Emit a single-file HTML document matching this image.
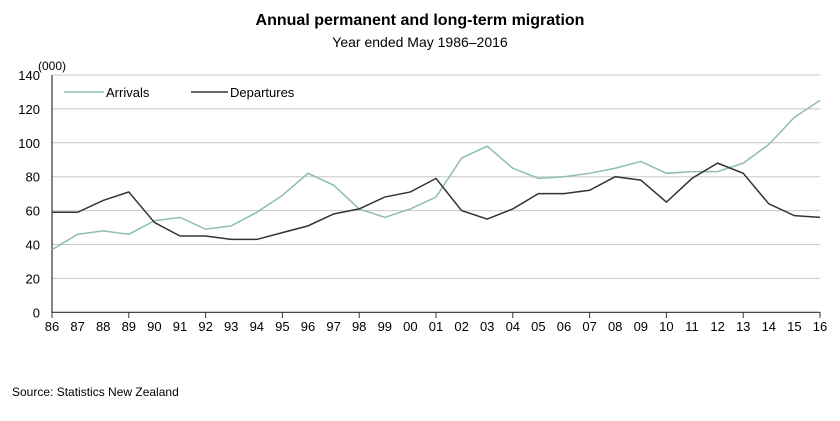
<!DOCTYPE html>
<html><head><meta charset="utf-8"><style>
body{margin:0;background:#fff;font-family:"Liberation Sans",sans-serif;}
</style></head><body>
<svg width="840" height="416" xmlns="http://www.w3.org/2000/svg" font-family="Liberation Sans, sans-serif">
<text x="420" y="25" text-anchor="middle" font-size="16" font-weight="bold">Annual permanent and long-term migration</text>
<text x="420" y="47" text-anchor="middle" font-size="14">Year ended May 1986–2016</text>
<text x="52" y="70" text-anchor="middle" font-size="12">(000)</text>
<g id="grid"></g><g id="yt"></g><g id="xt"></g><g id="lines"></g>
<g>
<line x1="64" y1="92" x2="104" y2="92" stroke="#8fbcb4" stroke-width="1.5"/>
<text x="106" y="97" font-size="13">Arrivals</text>
<line x1="191" y1="92" x2="228" y2="92" stroke="#333" stroke-width="1.5"/>
<text x="230" y="97" font-size="13">Departures</text>
</g>
<text x="12" y="396" font-size="12">Source: Statistics New Zealand</text>
</svg>
<script>
const years=["86","87","88","89","90","91","92","93","94","95","96","97","98","99","00","01","02","03","04","05","06","07","08","09","10","11","12","13","14","15","16"];
const arrivals=[37,46,48,46,54,56,49,51,59,69,82,75,61,56,61,68,91,98,85,79,80,82,85,89,82,83,83,88,99,115,125];
const departures=[59,59,66,71,53,45,45,43,43,47,51,58,61,68,71,79,60,55,61,70,70,72,80,78,65,79,88,82,64,57,56];
const yTicks=[0,20,40,60,80,100,120,140];
const NS="http://www.w3.org/2000/svg";
const x=i=>52+i*(768/(years.length-1));
const y=v=>312.3-v*(237.3/140);
function mk(t,a,p){const e=document.createElementNS(NS,t);for(const k in a)e.setAttribute(k,a[k]);document.getElementById(p).appendChild(e);return e;}
yTicks.forEach(v=>{
 if(v>0){const g=mk('line',{x1:52,x2:820,y1:y(v),y2:y(v),stroke:'#c8c8c8','stroke-width':1},'grid');
 
 }
 const t=mk('text',{x:40,y:y(v)+5,'text-anchor':'end','font-size':13},'yt');t.textContent=v;
 
 
});
const ax=mk('path',{d:`M52 ${y(140)}V312.3H820`,stroke:'#333',fill:'none','stroke-width':1.2},'grid');


years.forEach((yr,i)=>{
 if(i%3===0){mk('line',{x1:x(i),x2:x(i),y1:312,y2:318,stroke:'#333'},'xt');}
 const t=mk('text',{x:x(i),y:331,'text-anchor':'middle','font-size':13},'xt');t.textContent=yr;
 
 
});
function line(d,c,n){const p=mk('polyline',{points:d.map((v,i)=>x(i)+','+y(v)).join(' '),fill:'none',stroke:c,'stroke-width':1.5},'lines');
 
 }
line(arrivals,'#8fbcb4','arrivals-line');
line(departures,'#333','departures-line');
</script>
</body></html>
